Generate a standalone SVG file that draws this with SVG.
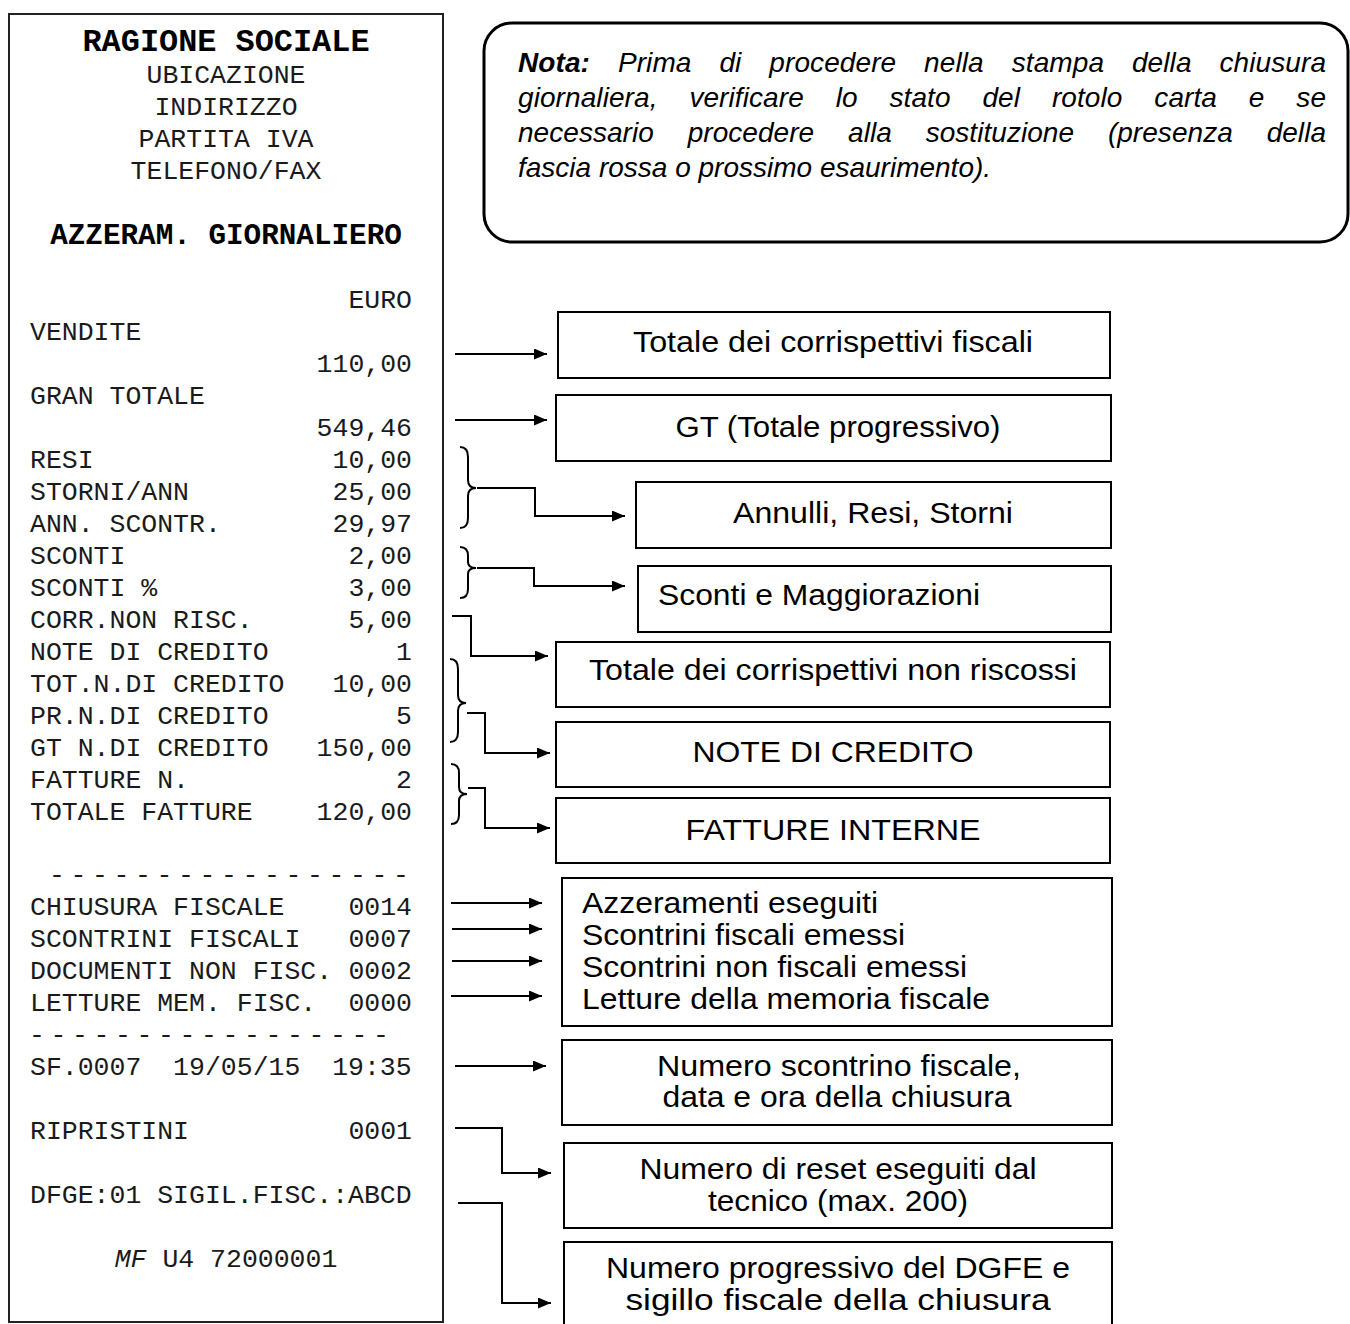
<svg xmlns="http://www.w3.org/2000/svg" width="1350" height="1324" viewBox="0 0 1350 1324">
<style>
.mono{font-family:"Liberation Mono","Courier New",monospace;font-size:26.5px;fill:#1a1a1a}
.monob{font-family:"Liberation Mono","Courier New",monospace;font-weight:bold;fill:#000}
.end{text-anchor:end}
.mid{text-anchor:middle}
.lbl{font-family:"Liberation Sans",Arial,sans-serif;font-size:30px;fill:#000}
.box{fill:#fff;stroke:#000;stroke-width:2}
.conn{fill:none;stroke:#000;stroke-width:2}
.note{font-family:"Liberation Sans",Arial,sans-serif;font-size:28px;font-style:italic;fill:#000}
</style>
<defs>
<marker id="ah" markerWidth="13" markerHeight="11" refX="13" refY="5.5" orient="auto" markerUnits="userSpaceOnUse"><path d="M0,0 L13,5.5 L0,11 z" fill="#000"/></marker>
</defs>
<rect width="1350" height="1324" fill="#fff"/>

<g id="receipt">
<rect x="9" y="14" width="434" height="1308" fill="#fff" stroke="#222" stroke-width="2"/>
<text class="monob mid" x="226" y="51" font-size="31.9">RAGIONE SOCIALE</text>
<text class="mono mid" x="226" y="83">UBICAZIONE</text>
<text class="mono mid" x="226" y="115">INDIRIZZO</text>
<text class="mono mid" x="226" y="147">PARTITA IVA</text>
<text class="mono mid" x="226" y="179">TELEFONO/FAX</text>
<text class="monob mid" x="226" y="244" font-size="29.3">AZZERAM. GIORNALIERO</text>
<text class="mono end" x="412" y="308">EURO</text>
<text class="mono" x="30" y="340">VENDITE</text>
<text class="mono end" x="412" y="372">110,00</text>
<text class="mono" x="30" y="404">GRAN TOTALE</text>
<text class="mono end" x="412" y="436">549,46</text>
<text class="mono" x="30" y="468">RESI</text><text class="mono end" x="412" y="468">10,00</text>
<text class="mono" x="30" y="500">STORNI/ANN</text><text class="mono end" x="412" y="500">25,00</text>
<text class="mono" x="30" y="532">ANN. SCONTR.</text><text class="mono end" x="412" y="532">29,97</text>
<text class="mono" x="30" y="564">SCONTI</text><text class="mono end" x="412" y="564">2,00</text>
<text class="mono" x="30" y="596">SCONTI %</text><text class="mono end" x="412" y="596">3,00</text>
<text class="mono" x="30" y="628">CORR.NON RISC.</text><text class="mono end" x="412" y="628">5,00</text>
<text class="mono" x="30" y="660">NOTE DI CREDITO</text><text class="mono end" x="412" y="660">1</text>
<text class="mono" x="30" y="692">TOT.N.DI CREDITO</text><text class="mono end" x="412" y="692">10,00</text>
<text class="mono" x="30" y="724">PR.N.DI CREDITO</text><text class="mono end" x="412" y="724">5</text>
<text class="mono" x="30" y="756">GT N.DI CREDITO</text><text class="mono end" x="412" y="756">150,00</text>
<text class="mono" x="30" y="788">FATTURE N.</text><text class="mono end" x="412" y="788">2</text>
<text class="mono" x="30" y="820">TOTALE FATTURE</text><text class="mono end" x="412" y="820">120,00</text>
<text class="mono" x="49" y="883" letter-spacing="5.6">-----------------</text>
<text class="mono" x="30" y="915">CHIUSURA FISCALE</text><text class="mono end" x="412" y="915">0014</text>
<text class="mono" x="30" y="947">SCONTRINI FISCALI</text><text class="mono end" x="412" y="947">0007</text>
<text class="mono" x="30" y="979">DOCUMENTI NON FISC.</text><text class="mono end" x="412" y="979">0002</text>
<text class="mono" x="30" y="1011">LETTURE MEM. FISC.</text><text class="mono end" x="412" y="1011">0000</text>
<text class="mono" x="29" y="1043" letter-spacing="5.6">-----------------</text>
<text class="mono" x="30" y="1075" style="white-space:pre">SF.0007  19/05/15  19:35</text>
<text class="mono" x="30" y="1139">RIPRISTINI</text><text class="mono end" x="412" y="1139">0001</text>
<text class="mono" x="30" y="1203">DFGE:01 SIGIL.FISC.:ABCD</text>
<text class="mono mid" x="226" y="1267"><tspan font-style="italic">MF</tspan> U4 72000001</text>
</g>

<g id="note">
<rect x="484" y="23" width="864" height="219" rx="28" ry="28" fill="#fff" stroke="#000" stroke-width="3"/>
<text class="note" x="518" y="72" word-spacing="20" textLength="808" lengthAdjust="spacing"><tspan font-weight="bold">Nota:</tspan> Prima di procedere nella stampa della chiusura</text>
<text class="note" x="518" y="107" word-spacing="24" textLength="808" lengthAdjust="spacing">giornaliera, verificare lo stato del rotolo carta e se</text>
<text class="note" x="518" y="142" word-spacing="26" textLength="808" lengthAdjust="spacing">necessario procedere alla sostituzione (presenza della</text>
<text class="note" x="518" y="177">fascia rossa o prossimo esaurimento).</text>
</g>

<g id="box-corrispettivi">
<rect class="box" x="558" y="312" width="552" height="66"/>
<text class="lbl mid" x="833" y="352" textLength="400" lengthAdjust="spacingAndGlyphs">Totale dei corrispettivi fiscali</text>
</g>
<g id="box-gt">
<rect class="box" x="556" y="395" width="555" height="66"/>
<text class="lbl mid" x="838" y="437" textLength="325" lengthAdjust="spacingAndGlyphs">GT (Totale progressivo)</text>
</g>
<g id="box-annulli">
<rect class="box" x="636" y="482" width="475" height="66"/>
<text class="lbl mid" x="873" y="523" textLength="280" lengthAdjust="spacingAndGlyphs">Annulli, Resi, Storni</text>
</g>
<g id="box-sconti">
<rect class="box" x="638" y="566" width="473" height="66"/>
<text class="lbl" x="658" y="605" textLength="322" lengthAdjust="spacingAndGlyphs">Sconti e Maggiorazioni</text>
</g>
<g id="box-nonriscossi">
<rect class="box" x="556" y="642" width="554" height="65"/>
<text class="lbl mid" x="833" y="680" textLength="488" lengthAdjust="spacingAndGlyphs">Totale dei corrispettivi non riscossi</text>
</g>
<g id="box-notecredito">
<rect class="box" x="556" y="722" width="554" height="65"/>
<text class="lbl mid" x="833" y="762" textLength="281" lengthAdjust="spacingAndGlyphs">NOTE DI CREDITO</text>
</g>
<g id="box-fatture">
<rect class="box" x="556" y="798" width="554" height="65"/>
<text class="lbl mid" x="833" y="840" textLength="295" lengthAdjust="spacingAndGlyphs">FATTURE INTERNE</text>
</g>
<g id="box-contatori">
<rect class="box" x="562" y="878" width="550" height="148"/>
<text class="lbl" x="582" y="913" textLength="296" lengthAdjust="spacingAndGlyphs">Azzeramenti eseguiti</text>
<text class="lbl" x="582" y="945" textLength="323" lengthAdjust="spacingAndGlyphs">Scontrini fiscali emessi</text>
<text class="lbl" x="582" y="977" textLength="385" lengthAdjust="spacingAndGlyphs">Scontrini non fiscali emessi</text>
<text class="lbl" x="582" y="1009" textLength="408" lengthAdjust="spacingAndGlyphs">Letture della memoria fiscale</text>
</g>
<g id="box-scontrino">
<rect class="box" x="562" y="1040" width="550" height="85"/>
<text class="lbl mid" x="839" y="1076" textLength="364" lengthAdjust="spacingAndGlyphs">Numero scontrino fiscale,</text>
<text class="lbl mid" x="837" y="1107" textLength="349" lengthAdjust="spacingAndGlyphs">data e ora della chiusura</text>
</g>
<g id="box-reset">
<rect class="box" x="564" y="1143" width="548" height="85"/>
<text class="lbl mid" x="838" y="1179" textLength="397" lengthAdjust="spacingAndGlyphs">Numero di reset eseguiti dal</text>
<text class="lbl mid" x="838" y="1211" textLength="260" lengthAdjust="spacingAndGlyphs">tecnico (max. 200)</text>
</g>
<g id="box-dgfe">
<rect class="box" x="564" y="1242" width="548" height="90"/>
<text class="lbl mid" x="838" y="1278" textLength="464" lengthAdjust="spacingAndGlyphs">Numero progressivo del DGFE e</text>
<text class="lbl mid" x="838" y="1310" textLength="425" lengthAdjust="spacingAndGlyphs">sigillo fiscale della chiusura</text>
</g>

<g id="connectors">
<path class="conn" d="M455,354 H547" marker-end="url(#ah)"/>
<path class="conn" d="M455,420 H547" marker-end="url(#ah)"/>
<path class="conn" d="M460,447 Q468,447 468,457 L468,480 Q468,488 476,488 Q468,488 468,496 L468,518 Q468,528 460,528"/>
<path class="conn" d="M477,488 H535 V516 H625" marker-end="url(#ah)"/>
<path class="conn" d="M460,547 Q468,547 468,556 L468,562 Q468,568 476,568 Q468,568 468,574 L468,589 Q468,598 460,598"/>
<path class="conn" d="M477,568 H534 V586 H625" marker-end="url(#ah)"/>
<path class="conn" d="M452,616 H471 V656 H548" marker-end="url(#ah)"/>
<path class="conn" d="M450,659 Q458,659 458,669 L458,695 Q458,703 466,703 Q458,703 458,711 L458,732 Q458,742 450,742"/>
<path class="conn" d="M467,713 H485 V753 H550" marker-end="url(#ah)"/>
<path class="conn" d="M451,764 Q459,764 459,773 L459,787 Q459,794 467,794 Q459,794 459,801 L459,815 Q459,824 451,824"/>
<path class="conn" d="M468,788 H485 V828 H550" marker-end="url(#ah)"/>
<path class="conn" d="M451,903 H542" marker-end="url(#ah)"/>
<path class="conn" d="M452,929 H542" marker-end="url(#ah)"/>
<path class="conn" d="M452,961 H542" marker-end="url(#ah)"/>
<path class="conn" d="M451,996 H542" marker-end="url(#ah)"/>
<path class="conn" d="M455,1066 H546" marker-end="url(#ah)"/>
<path class="conn" d="M455,1128 H502 V1173 H551" marker-end="url(#ah)"/>
<path class="conn" d="M458,1203 H502 V1303 H551" marker-end="url(#ah)"/>
</g>
</svg>
